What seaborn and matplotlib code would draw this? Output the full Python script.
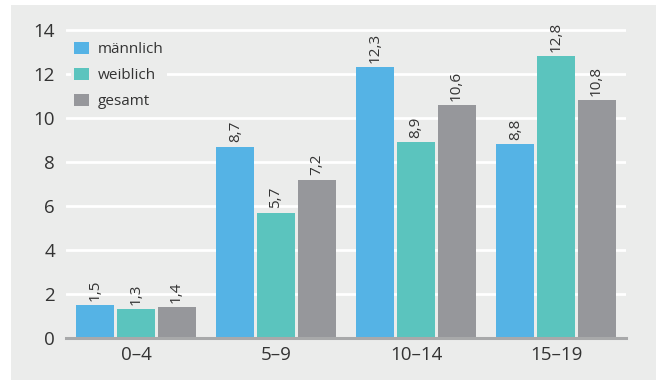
import pandas as pd
import matplotlib
matplotlib.use('Agg')
import matplotlib.pyplot as plt
import seaborn as sns
from matplotlib.patches import Rectangle

sns.set_theme(style="white")
plt.rcParams['font.family'] = ['Open Sans', 'DejaVu Sans']

# data
age_groups = ['0–4', '5–9', '10–14', '15–19']
maennlich = [1.5, 8.7, 12.3, 8.8]
weiblich = [1.3, 5.7, 8.9, 12.8]
gesamt = [1.4, 7.2, 10.6, 10.8]
series_names = ['männlich', 'weiblich', 'gesamt']
colors = ['#55B3E5', '#5BC4BE', '#96979B']

bg = '#EBECEB'
text_col = '#333333'

df = pd.DataFrame({
    'Alter': age_groups * 3,
    'Wert': maennlich + weiblich + gesamt,
    'Gruppe': [s for s in series_names for _ in age_groups],
})

fig = plt.figure(figsize=(6.56, 3.80), dpi=100, facecolor='white')
# grey panel with the thin white margin at top / left
fig.add_artist(Rectangle((11 / 656, 0), 1 - 11 / 656, 375 / 380,
                         transform=fig.transFigure, facecolor=bg,
                         edgecolor='none', zorder=-10))

ax = fig.add_axes([66 / 656, 42 / 380, 560 / 656, 310.2 / 380])
ax.set_facecolor(bg)

sns.barplot(data=df, x='Alter', y='Wert', hue='Gruppe', order=age_groups,
            hue_order=series_names, palette=colors, width=0.87, gap=0.06,
            saturation=1, ax=ax, zorder=3, edgecolor='none', linewidth=0)

for cont in ax.containers:
    labels = [f"{b.get_height():.1f}".replace('.', ',') for b in cont]
    ax.bar_label(cont, labels=labels, rotation=90, padding=3,
                 fontsize=11, color=text_col)

ax.set_xlim(-0.5, 3.5)
ax.set_ylim(0, 14.1)
ax.set_yticks(range(0, 15, 2))
ax.grid(axis='y', color='white', linewidth=2, zorder=1)
ax.set_axisbelow(True)
for side in ['top', 'right', 'left']:
    ax.spines[side].set_visible(False)
ax.spines['bottom'].set_color('#A8A9AA')
ax.spines['bottom'].set_linewidth(2.2)
ax.spines['bottom'].set_zorder(4)
ax.tick_params(axis='both', length=0, labelsize=13.5, colors=text_col)
ax.tick_params(axis='y', pad=8)
ax.tick_params(axis='x', pad=6)
ax.set_xlabel('')
ax.set_ylabel('')

leg = ax.legend(loc='upper left', bbox_to_anchor=(0.0, 0.98), frameon=True,
                facecolor=bg, edgecolor='none', framealpha=1, fontsize=11,
                handlelength=1.0, handleheight=0.9, handletextpad=0.6,
                labelspacing=0.68, borderaxespad=0.3, borderpad=0.2)
for t in leg.get_texts():
    t.set_color(text_col)
leg.set_zorder(5)

fig.savefig('out.png', dpi=100, facecolor='white')
